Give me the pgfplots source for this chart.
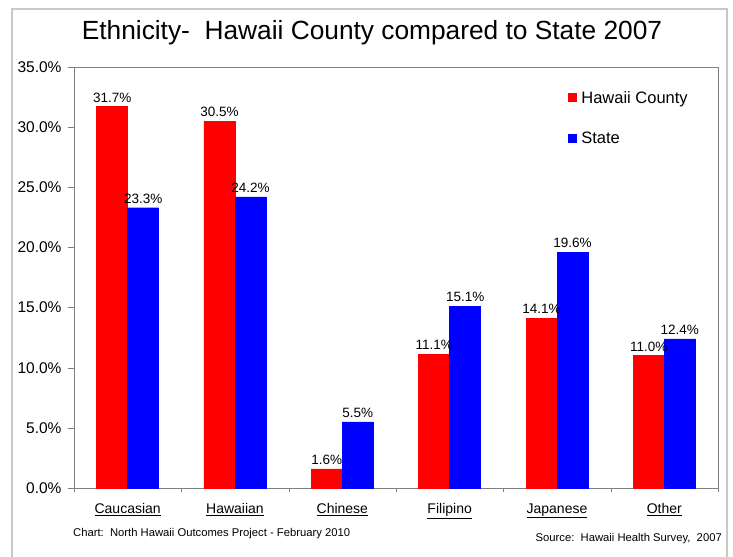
\documentclass[border=0pt]{standalone}
\usepackage{fontspec}
\setmainfont{Liberation Sans}
\usepackage{pgfplots}
\pgfplotsset{compat=1.18}
\definecolor{axgray}{RGB}{128,128,128}
\definecolor{framegray}{RGB}{200,200,200}
\pgfplotsset{sqleg/.style={legend image code/.code={\fill[##1,draw=none] (0bp,-4.5bp) rectangle (9bp,4.5bp); \path (11bp,0bp);}}}

\begin{document}
\begin{tikzpicture}
  \useasboundingbox (0,0) rectangle (733bp,-557bp);
  \draw[framegray, line width=1.5bp] (12bp,-557bp) -- (12bp,-9bp) -- (727bp,-9bp) -- (727bp,-557bp);

  \begin{axis}[
    at={(74bp,-488bp)}, anchor=south west,
    scale only axis,
    width=644bp, height=421bp,
    ybar=0pt,
    bar width=31bp,
    xmin=-0.5, xmax=5.5,
    ymin=0, ymax=35,
    xtick={0,1,2,3,4,5},
    xticklabels={\underline{Caucasian},\underline{Hawaiian},\underline{Chinese},\underline{Filipino},\underline{Japanese},\underline{Other}},
    minor xtick={-0.5,0.5,1.5,2.5,3.5,4.5,5.5},
    major x tick style={draw=none},
    minor tick length=4bp,
    major tick length=6bp,
    tick align=outside,
    ytick={0,5,10,15,20,25,30,35},
    yticklabel={\pgfmathprintnumber[fixed,fixed zerofill,precision=1]{\tick}\%},
    /pgf/number format/assume math mode=true,
    axis line style={axgray},
    tick style={axgray},
    xtick pos=bottom, ytick pos=left,
    x tick label style={font=\fontsize{14bp}{17bp}\selectfont, yshift=-6bp},
    y tick label style={font=\fontsize{15.5bp}{18bp}\selectfont, xshift=-3bp},
    nodes near coords={\pgfmathprintnumber[fixed,fixed zerofill,precision=1]{\pgfplotspointmeta}\%},
    every node near coord/.append style={font=\fontsize{13.5bp}{16bp}\selectfont, text=black, yshift=1bp},
    legend style={draw=none, fill=none, at={(0.767,0.948)}, anchor=north west,
      font=\fontsize{16.5bp}{19bp}\selectfont, row sep=23bp, inner sep=0pt,
      nodes={inner sep=2bp}},
    legend cell align=left,
  ]
  \addplot[fill=red, draw=red, sqleg] coordinates {(0,31.7) (1,30.5) (2,1.6) (3,11.1) (4,14.1) (5,11.0)};
  \addplot[fill=blue, draw=blue, sqleg] coordinates {(0,23.3) (1,24.2) (2,5.5) (3,15.1) (4,19.6) (5,12.4)};
  \legend{Hawaii County, State}
  \end{axis}

  \node[anchor=base, font=\fontsize{26.3bp}{31bp}\selectfont] at (372bp,-39bp) {Ethnicity-\ \ Hawaii County compared to State 2007};
  \node[anchor=base west, font=\fontsize{11.25bp}{13bp}\selectfont, inner sep=0pt] at (73bp,-536bp) {Chart:\ \ North Hawaii Outcomes Project - February 2010};
  \node[anchor=base east, font=\fontsize{11.25bp}{13bp}\selectfont, inner sep=0pt] at (722bp,-541bp) {Source:\ \ Hawaii Health Survey,\ \ 2007};
\end{tikzpicture}
\end{document}
